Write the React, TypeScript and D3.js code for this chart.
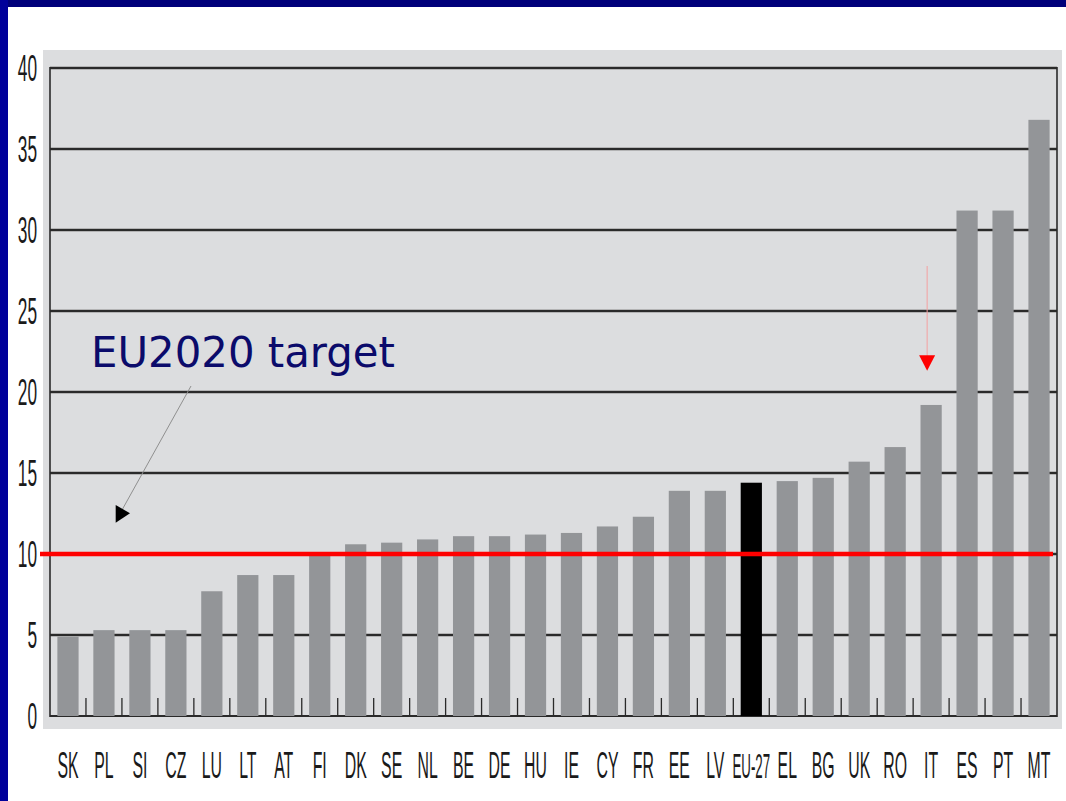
import React from "react";
import * as d3 from "d3";

const categories = ["SK","PL","SI","CZ","LU","LT","AT","FI","DK","SE","NL","BE","DE","HU","IE","CY","FR","EE","LV","EU-27","EL","BG","UK","RO","IT","ES","PT","MT"];
const values = [4.9,5.3,5.3,5.3,7.7,8.7,8.7,9.9,10.6,10.7,10.9,11.1,11.1,11.2,11.3,11.7,12.3,13.9,13.9,14.4,14.5,14.7,15.7,16.6,19.2,31.2,31.2,36.8];
const highlight = "EU-27";
const yTicks = [0,5,10,15,20,25,30,35,40];
const targetValue = 10;
const annotationText = "EU2020 target";
const arrowCategory = "IT";

const W = 1066, H = 801;
const plotL = 50, plotR = 1057, plotT = 68, plotB = 716;

export default function App() {
  const x = d3.scaleBand<string>().domain(categories).range([plotL, plotR]).paddingInner(0.41).paddingOuter(0.205);
  const y = d3.scaleLinear().domain([0, 40]).range([plotB, plotT]);
  const step = x.step();
  const condensed = 0.44;
  const itX = (x(arrowCategory) as number) + x.bandwidth() / 2 - 4;

  return (
    <svg width={W} height={H} style={{ position: "absolute", left: 0, top: 0, background: "#fff" }}>
      <rect x={0} y={0} width={W} height={H} fill="#fff" />
      <rect x={0} y={0} width={W} height={7} fill="#00007a" />
      <rect x={0} y={0} width={8} height={H} fill="#00009a" />
      <rect x={43} y={50} width={1019} height={679} fill="#dcdddf" />
      {/* gridlines */}
      {yTicks.filter(t => t > 0).map(t => (
        <g key={t}>
          <line x1={plotL} x2={plotR} y1={y(t)} y2={y(t)} stroke="#8a8a8a" strokeWidth={3.2} />
          <line x1={plotL} x2={plotR} y1={y(t)} y2={y(t)} stroke="#2a2a2a" strokeWidth={1.8} />
        </g>
      ))}
      {/* baseline and frame */}
      <line x1={plotL} x2={plotR} y1={plotB} y2={plotB} stroke="#2a2a2a" strokeWidth={2.2} />
      <line x1={plotL} x2={plotL} y1={plotT - 1} y2={plotB + 1} stroke="#2a2a2a" strokeWidth={1.6} />
      <line x1={plotR} x2={plotR} y1={plotT - 1} y2={plotB + 1} stroke="#2a2a2a" strokeWidth={1.6} />
      {/* x ticks at category boundaries */}
      {categories.slice(1).map((c) => {
        const bx = (x(c) as number) - (step - x.bandwidth()) / 2;
        return <line key={c} x1={bx} x2={bx} y1={plotB} y2={plotB - 18} stroke="#2a2a2a" strokeWidth={1.3} />;
      })}
      {/* bars */}
      {categories.map((c, i) => (
        <rect key={c} x={x(c)} y={y(values[i])} width={x.bandwidth()} height={plotB - y(values[i])}
          fill={c === highlight ? "#000" : "#939598"} />
      ))}
      {/* y labels */}
      {yTicks.map(t => (
        <text key={t} transform={`translate(37,${y(t) + 13}) scale(${condensed + 0.04},1)`} textAnchor="end"
          fontFamily="Liberation Sans, Arial, sans-serif" fontSize={36} fill="#1a1a1a">{t}</text>
      ))}
      {/* x labels */}
      {categories.map(c => (
        <text key={c} transform={`translate(${(x(c) as number) + x.bandwidth() / 2},778) scale(${c.length > 3 ? 0.37 : condensed},1)`} textAnchor="middle"
          fontFamily="Liberation Sans, Arial, sans-serif" fontSize={36} fill="#1a1a1a">{c}</text>
      ))}
      {/* target line */}
      <line x1={40} x2={1053} y1={y(targetValue)} y2={y(targetValue)} stroke="#ff0000" strokeWidth={4.5} />
      {/* annotation */}
      <text x={91} y={367} fontFamily="DejaVu Sans, Verdana, sans-serif" fontSize={42} fill="#0b0b6b" textLength={304} lengthAdjust="spacingAndGlyphs">{annotationText}</text>
      <line x1={191} y1={386} x2={122} y2={510} stroke="#8f8f8f" strokeWidth={1} />
      <path d="M115.7,505 L130,513.3 L115.7,522.7 Z" fill="#000" />
      {/* red arrow */}
      <line x1={itX} x2={itX} y1={266} y2={356} stroke="#f4a0a0" strokeWidth={1} />
      <path d={`M${itX - 8},355.3 L${itX + 8},355.3 L${itX},370.7 Z`} fill="#ff0000" />
    </svg>
  );
}
